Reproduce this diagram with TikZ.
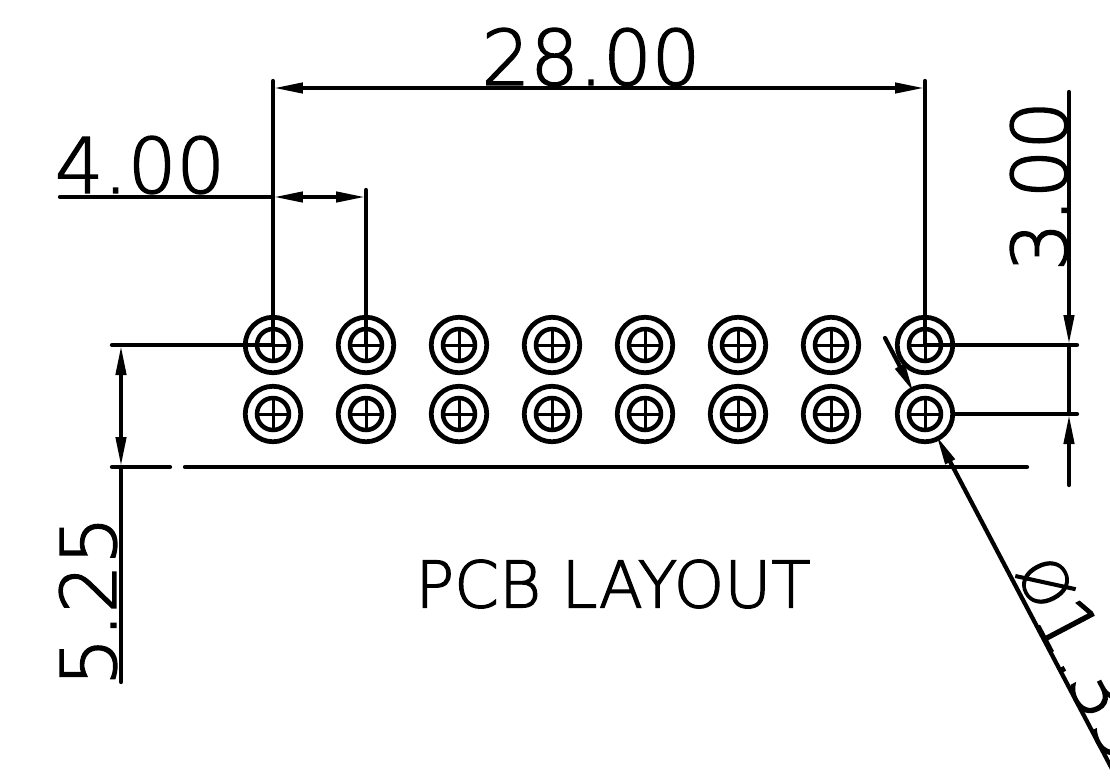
\documentclass[tikz,border=0pt]{standalone}
\usepackage{fontspec}
\usepackage{tikz}
\usetikzlibrary{arrows.meta}
\setmainfont{DejaVu Sans ExtraLight}[FakeBold=2]

\begin{document}
\begin{tikzpicture}[x=0.02cm,y=0.02cm]
    \tikzstyle{every node}+=[inner sep=0pt]
    \tikzstyle{dimline}=[black,line width=0.085cm,line cap=round,>={Triangle[length=0.6cm,width=0.2cm]}]
    \tikzstyle{padhole}=[circle,draw=black,line width=0.09cm,minimum size=0.64cm,
        path picture={\draw [line width=0.06cm] (path picture bounding box.north) -- (path picture bounding box.south);
        \draw [line width=0.06cm] (path picture bounding box.west) -- (path picture bounding box.east);}]
    \tikzstyle{pad}=[circle,draw=black,line width=0.095cm,minimum size=1.11cm,label={[padhole]center:}]
    \tikzstyle{dimtext}=[font=\fontsize{43.5}{50}\selectfont]
    \useasboundingbox (0,0) rectangle (1110,-775);
    \clip (0,0) rectangle (1110,-775);
    \node [pad] (p1) at (273,-345) {};
    \node [pad] (p2) at (366,-345) {};
    \node [pad] (p3) at (459,-345) {};
    \node [pad] (p4) at (552,-345) {};
    \node [pad] (p5) at (645,-345) {};
    \node [pad] (p6) at (738,-345) {};
    \node [pad] (p7) at (831,-345) {};
    \node [pad] (p8) at (925,-345) {};
    \node [pad] (q1) at (273,-414) {};
    \node [pad] (q2) at (366,-414) {};
    \node [pad] (q3) at (459,-414) {};
    \node [pad] (q4) at (552,-414) {};
    \node [pad] (q5) at (645,-414) {};
    \node [pad] (q6) at (738,-414) {};
    \node [pad] (q7) at (831,-414) {};
    \node [pad] (q8) at (925,-414) {};
    \coordinate (a1) at (273,-81);
    \coordinate (a2) at (925,-81);
    \coordinate (a3) at (273,-88);
    \coordinate (a4) at (925,-88);
    \draw [dimline] (p1.center) -- (a1);
    \draw [dimline] (p8.center) -- (a2);
    \draw [dimline,<->] (a3) -- (a4);
    \node [dimtext] (w1) at (591,-57) {28.00};
    \coordinate (b1) at (60,-197);
    \coordinate (b2) at (273,-197);
    \coordinate (b3) at (366,-197);
    \coordinate (b4) at (366,-190);
    \draw [dimline] (p2.center) -- (b4);
    \draw [dimline] (b1) -- (b2);
    \draw [dimline,<->] (b2) -- (b3);
    \node [dimtext] (w2) at (140,-165) {4.00};
    \coordinate (c1) at (1069,-92);
    \coordinate (c2) at (1069,-345);
    \coordinate (c3) at (1069,-414);
    \coordinate (c4) at (1069,-485);
    \coordinate (c5) at (1077,-345);
    \coordinate (c6) at (1077,-414);
    \draw [dimline] (p8.center) -- (c5);
    \draw [dimline] (q8) -- (c6);
    \draw [dimline,->] (c1) -- (c2);
    \draw [dimline] (c2) -- (c3);
    \draw [dimline,->] (c4) -- (c3);
    \node [dimtext,rotate=90] (w3) at (1039,-186) {3.00};
    \coordinate (e1) at (112,-345);
    \coordinate (e2) at (121,-345);
    \coordinate (e3) at (121,-467);
    \coordinate (e4) at (121,-682);
    \coordinate (e5) at (112,-467);
    \coordinate (e6) at (170,-467);
    \coordinate (e7) at (185,-467);
    \coordinate (e8) at (1027,-467);
    \draw [dimline] (e1) -- (p1.center);
    \draw [dimline,<->] (e2) -- (e3);
    \draw [dimline] (e3) -- (e4);
    \draw [dimline] (e5) -- (e6);
    \draw [dimline] (e7) -- (e8);
    \node [dimtext,rotate=90] (w4) at (88,-601) {5.25};
    \node [font=\fontsize{36.6}{44}\selectfont] (w5) at (613,-584) {PCB LAYOUT};
    \coordinate (f1) at (885,-338);
    \coordinate (f2) at (1130,-803);
    \draw [dimline,->,shorten >=-0.12cm] (f1) -- (q8);
    \draw [dimline,->,shorten >=-0.12cm] (f2) -- (q8);
    \node [dimtext,rotate=-62.2,anchor=base west] (w6) at (1009,-574) {{\fontsize{35}{40}\selectfont\raisebox{3.4pt}{Ø}}1.35};
\end{tikzpicture}
\end{document}
